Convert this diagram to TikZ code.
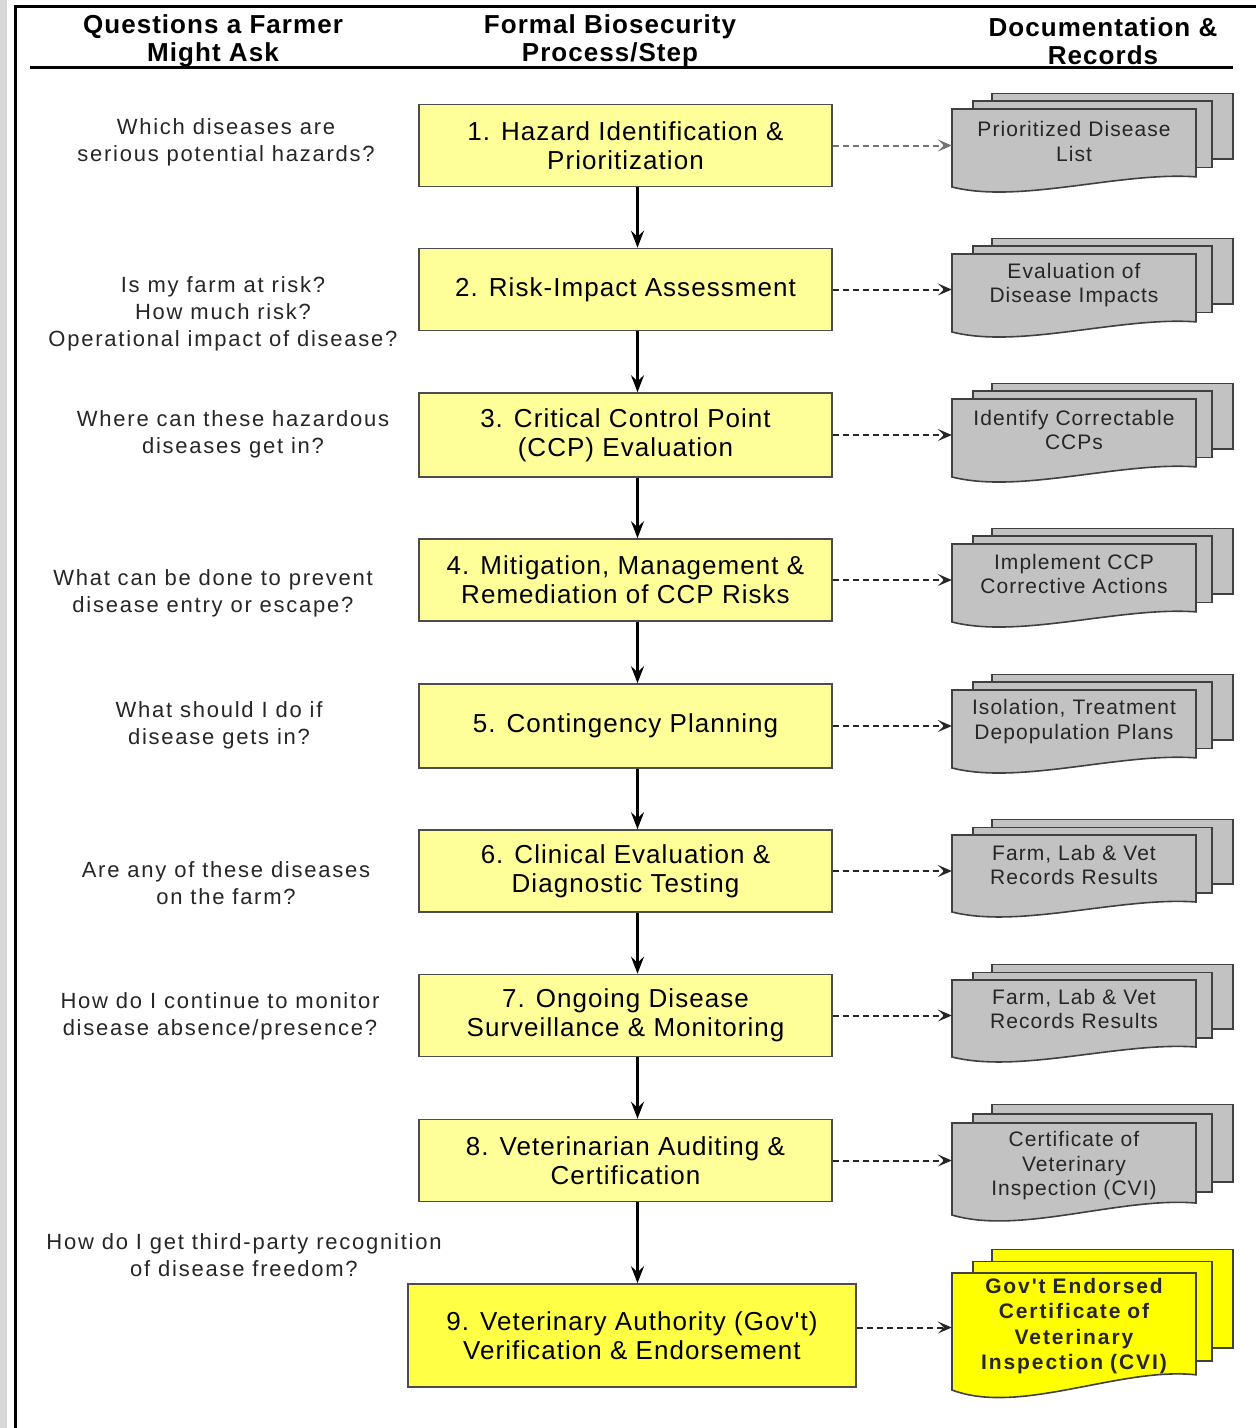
\documentclass[tikz,border=0pt]{standalone}
\usepackage{fontspec}
\setmainfont{Liberation Sans}
\newfontfamily\qfont[LetterSpace=8]{Liberation Sans}
\newfontfamily\boxfont[LetterSpace=4]{Liberation Sans}
\newfontfamily\docfnt[LetterSpace=5]{Liberation Sans}
\newfontfamily\hdrfont[LetterSpace=4]{Liberation Sans}
\newfontfamily\docbfnt[LetterSpace=9]{Liberation Sans}
\usetikzlibrary{arrows.meta}
\definecolor{boxyellow}{RGB}{255,255,153}
\definecolor{boxyellowB}{RGB}{255,255,70}
\definecolor{docgray}{RGB}{194,194,194}
\definecolor{docyellow}{RGB}{255,255,0}
\definecolor{stripgray}{RGB}{216,216,216}

\newcommand\docstack[7]{%
  \pgfmathsetmacro\dsH{#3-#2}%
  \filldraw[docline, fill=#4] (992,{#2-0.2*\dsH}) rectangle (1233,{#3-0.36*\dsH});
  \filldraw[docline, fill=#4] (973,{#2-0.1*\dsH}) rectangle (1212,{#3-0.25*\dsH});
  \filldraw[docline, fill=#4] (952,#2) -- (1196,#2) -- (1196,{#3-0.13*\dsH})
     .. controls (1120,{#3-0.2*\dsH}) and (1020,{#3+0.22*\dsH}) .. (952,#3) -- cycle;
  \node[docnode, font=#7] (#1) at (1074,#5) {#6};
}

\begin{document}
\begin{tikzpicture}[x=1pt,y=-1pt,
  stepbox/.style={draw=black!70, line width=1.6pt, fill=boxyellow,
    minimum width=413pt, minimum height=82pt, align=center, inner sep=0pt,
    font=\boxfont\fontsize{26}{29}\selectfont},
  qnode/.style={align=center, inner sep=0pt, text=black!85,
    font=\qfont\fontsize{22}{27}\selectfont},
  hnode/.style={align=center, inner sep=0pt,
    font=\hdrfont\bfseries\fontsize{26}{28}\selectfont},
  docline/.style={draw=black!75, line width=1.6pt},
  docnode/.style={text width=236pt, inner xsep=4pt, inner ysep=0pt, align=center, text=black!85},
  flowarrow/.style={draw=black, line width=2.5pt, -{Stealth[length=17pt,width=13pt,inset=6pt]}},
  dasharrow/.style={draw=black!85, line width=2pt, dash pattern=on 6pt off 4pt,
    -{Stealth[length=14pt,width=12pt,inset=6pt]}}
]
\useasboundingbox (0,0) rectangle (1256,1428);
\fill[white] (0,0) rectangle (1256,1428);
% frame
\fill[stripgray] (0,0) rectangle (7,1428);
\draw[line width=3pt] (15,1428) -- (15,6) -- (1256,6);
\draw[line width=3pt] (30,67) -- (1233,67);

% headers
\node[hnode] (h1) at (213,41) {Questions a Farmer\\Might Ask};
\node[hnode] (h2) at (610,41) {Formal Biosecurity\\Process/Step};
\node[hnode] (h3) at (1103,41) {Documentation \&\\Records};

% questions
\node[qnode] (q1) at (226,142) {Which diseases are\\serious potential hazards?};
\node[qnode] (q2) at (223,314) {Is my farm at risk?\\How much risk?\\Operational impact of disease?};
\node[qnode] (q3) at (233,434) {Where can these hazardous\\diseases get in?};
\node[qnode] (q4) at (213,593) {What can be done to prevent\\disease entry or escape?};
\node[qnode] (q5) at (219,725) {What should I do if\\disease gets in?};
\node[qnode] (q6) at (226,883) {Are any of these diseases\\on the farm?};
\node[qnode] (q7) at (220,1016) {How do I continue to monitor\\disease absence/presence?};
\node[qnode] (q8) at (244,1255) {How do I get third-party recognition\\of disease freedom?};

% process boxes
\node[stepbox] (b1) at (625.5,145.5) {1. Hazard Identification \&\\Prioritization};
\node[stepbox] (b2) at (625.5,289.5) {2. Risk-Impact Assessment};
\node[stepbox, minimum height=84pt] (b3) at (625.5,435) {3. Critical Control Point\\(CCP) Evaluation};
\node[stepbox] (b4) at (625.5,580) {4. Mitigation, Management \&\\Remediation of CCP Risks};
\node[stepbox, minimum height=84pt] (b5) at (625.5,726) {5. Contingency Planning};
\node[stepbox] (b6) at (625.5,871) {6. Clinical Evaluation \&\\Diagnostic Testing};
\node[stepbox] (b7) at (625.5,1015.5) {7. Ongoing Disease\\Surveillance \& Monitoring};
\node[stepbox] (b8) at (625.5,1160.5) {8. Veterinarian Auditing \&\\Certification};
\node[stepbox, minimum width=448pt, minimum height=103pt, fill=boxyellowB] (b9) at (632,1335.5)
  {9. Veterinary Authority (Gov't)\\Verification \& Endorsement};

% documents
\def\dreg{\docfnt\fontsize{21}{24.5}\selectfont}
\def\dbold{\docbfnt\bfseries\fontsize{21}{25.5}\selectfont}
\docstack{d1}{109}{187}{docgray}{141.5}{Prioritized Disease\\List}{\dreg}
\docstack{d2}{254}{332}{docgray}{285}{Evaluation of\\Disease Impacts}{\dreg}
\docstack{d3}{399}{477}{docgray}{430}{Identify Correctable\\CCPs}{\dreg}
\docstack{d4}{544}{622}{docgray}{574}{Implement CCP\\Corrective Actions}{\dreg}
\docstack{d5}{690}{768}{docgray}{721.5}{Isolation, Treatment\\Depopulation Plans}{\dreg}
\docstack{d6}{835}{912}{docgray}{865}{Farm, Lab \& Vet\\Records Results}{\dreg}
\docstack{d7}{980}{1057}{docgray}{1009}{Farm, Lab \& Vet\\Records Results}{\dreg}
\docstack{d8}{1123}{1215}{docgray}{1166}{Certificate of\\Veterinary\\Inspection (CVI)}{\dreg}
\docstack{d9}{1273}{1390}{docyellow}{1326}{Gov't Endorsed\\Certificate of\\Veterinary\\Inspection (CVI)}{\dbold}

% flow arrows
\draw[flowarrow] ([xshift=12pt]b1.south) -- ([xshift=12pt]b2.north);
\draw[flowarrow] ([xshift=12pt]b2.south) -- ([xshift=12pt]b3.north);
\draw[flowarrow] ([xshift=12pt]b3.south) -- ([xshift=12pt]b4.north);
\draw[flowarrow] ([xshift=12pt]b4.south) -- ([xshift=12pt]b5.north);
\draw[flowarrow] ([xshift=12pt]b5.south) -- ([xshift=12pt]b6.north);
\draw[flowarrow] ([xshift=12pt]b6.south) -- ([xshift=12pt]b7.north);
\draw[flowarrow] ([xshift=12pt]b7.south) -- ([xshift=12pt]b8.north);
\draw[flowarrow] ([xshift=12pt]b8.south) -- ([xshift=12pt]b8.south |- b9.north);

% documentation arrows
\draw[dasharrow, draw=black!55] (b1.east) -- (b1.east -| d1.west);
\draw[dasharrow] (b2.east) -- (b2.east -| d2.west);
\draw[dasharrow] (b3.east) -- (b3.east -| d3.west);
\draw[dasharrow] (b4.east) -- (b4.east -| d4.west);
\draw[dasharrow] (b5.east) -- (b5.east -| d5.west);
\draw[dasharrow] (b6.east) -- (b6.east -| d6.west);
\draw[dasharrow] (b7.east) -- (b7.east -| d7.west);
\draw[dasharrow] (b8.east) -- (b8.east -| d8.west);
\draw[dasharrow] ([yshift=8pt]b9.east) -- ([yshift=8pt]b9.east -| d9.west);
\end{tikzpicture}
\end{document}
